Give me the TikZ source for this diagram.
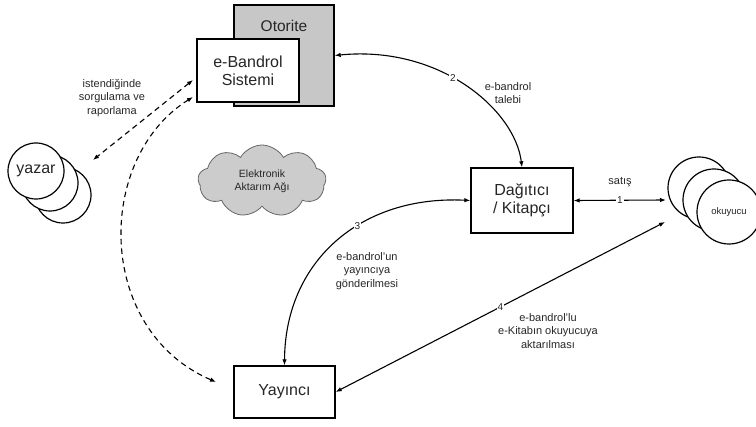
\documentclass[tikz,border=0pt]{standalone}
\usepackage{fontspec}
\setmainfont{Liberation Sans}
\usetikzlibrary{shapes.symbols,arrows.meta}
\begin{document}
\begin{tikzpicture}[x=1pt,y=-1pt,
  boxnode/.style={draw, line width=1.3pt, fill=white, inner sep=0pt, align=center, font=\fontsize{16}{18}\selectfont, text=black!85},
  circ/.style={draw, line width=1.2pt, fill=white, circle, inner sep=0pt},
  small/.style={align=center, font=\fontsize{11}{13.5}\selectfont, text=black!85},
  numlab/.style={fill=white, inner sep=1pt, font=\fontsize{10}{11}\selectfont, text=black!85},
  conn/.style={line width=1.1pt, {Latex[length=6pt,width=4.5pt]}-{Latex[length=6pt,width=4.5pt]}},
  dconn/.style={conn, dash pattern=on 5.5pt off 4pt},
]
\useasboundingbox (0,0) rectangle (756,427);

% Otorite / e-Bandrol
\node[boxnode, fill=black!22, minimum width=100pt, minimum height=101pt] (oto) at (284,55.5) {};
\node[font=\fontsize{15.5}{17}\selectfont, text=black!85] (otot) at (284,26) {Otorite};
\node[boxnode, minimum width=102pt, minimum height=63pt] (ebs) at (248,70.5) {e-Bandrol\\Sistemi};

% Dağıtıcı / Kitapçı
\node[boxnode, minimum width=102pt, minimum height=65pt] (dag) at (522,200.5) {Dağıtıcı\\/ Kitapçı};

% Yayıncı
\node[boxnode, minimum width=101pt, minimum height=52pt] (yay) at (284.5,392) {Yayıncı};

% yazar circles
\node[circ, minimum size=56pt] (y3) at (63,195) {};
\node[circ, minimum size=56pt] (y2) at (50,183) {};
\node[circ, minimum size=56pt, font=\fontsize{16}{18}\selectfont, text=black!85] (y1) at (36,171) {yazar};

% okuyucu circles
\node[circ, minimum size=62pt] (o1) at (699,188) {};
\node[circ, minimum size=62pt] (o2) at (714,200) {};
\node[circ, minimum size=64pt, font=\fontsize{9.5}{11}\selectfont, text=black!85] (o3) at (729,212) {okuyucu};

% cloud
\node[cloud, cloud puffs=9, cloud puff arc=120, aspect=1.8, draw=black!60, fill=black!20, line width=0.8pt,
      minimum width=128pt, minimum height=72pt, inner sep=0pt, align=center,
      font=\fontsize{10.5}{13}\selectfont, text=black!85] (cloud) at (262,181) {Elektronik\\Aktarım Ağı};

% coordinates
\coordinate (d1a) at (193,80);
\coordinate (d1b) at (93,160);
\coordinate (d2a) at (193,97);
\coordinate (d2b) at (216,382);
\coordinate (o4) at (665,222);
\coordinate (o1w) at (666,200);

% connectors
\draw[dconn] (d1a) -- (d1b);
\draw[dconn] (d2a) .. controls (95,158) and (95,330) .. (d2b);

\draw[conn] (oto.east) .. controls (440,45) and (515,110) .. node[numlab, pos=0.44] (n2) {2} (dag.north);
\draw[conn] (dag.east) -- node[numlab] (n1) {1} (o1w);
\draw[conn] (dag.west) .. controls (360,195) and (285,262) .. node[numlab, pos=0.4] (n3) {3} (yay.north);
\draw[conn] (yay.east) -- node[numlab, pos=0.5] (n4) {4} (o4);

% labels
\node[small] (l0) at (112,98) {istendiğinde\\sorgulama ve\\raporlama};
\node[small] (l2) at (508,93) {e-bandrol\\talebi};
\node[small] (l1) at (620,182) {satış};
\node[small] (l3) at (367,271) {e-bandrol'un\\yayıncıya\\gönderilmesi};
\node[small] (l4) at (548,331) {e-bandrol'lu\\e-Kitabın okuyucuya\\aktarılması};
\end{tikzpicture}
\end{document}
